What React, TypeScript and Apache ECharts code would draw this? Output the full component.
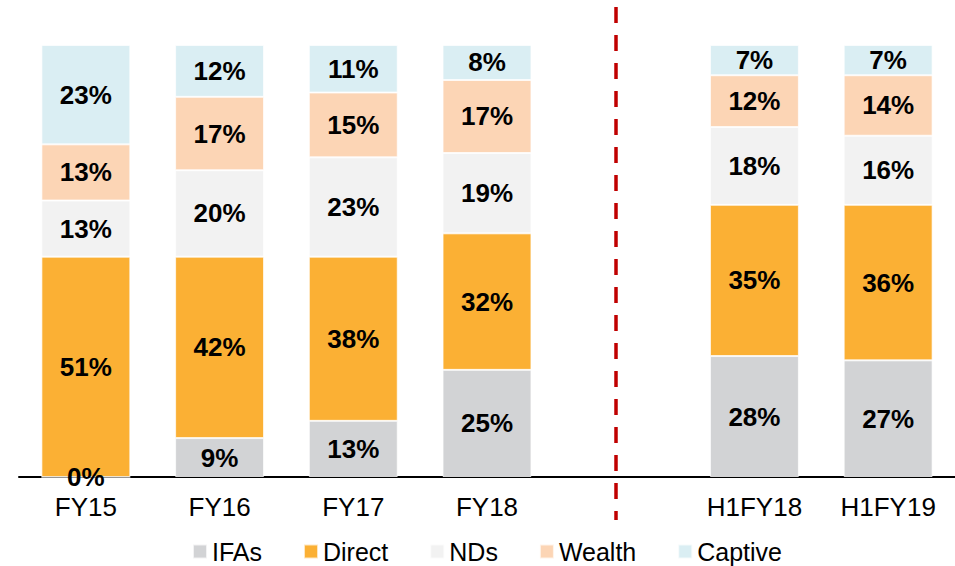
import React, { useEffect, useRef } from "react";
import * as echarts from "echarts";

const categories = ["FY15", "FY16", "FY17", "FY18", "", "H1FY18", "H1FY19"];
const ifas = [0, 9, 13, 24.8, null, 28, 27];
const direct = [51, 42, 38, 31.6, null, 35, 36];
const nds = [13, 20, 23, 18.6, null, 18, 16];
const wealth = [13, 17, 15, 16.9, null, 12, 14];
const captive = [23, 12, 11, 8.1, null, 7, 7];

const seriesNames = ["IFAs", "Direct", "NDs", "Wealth", "Captive"];
const seriesColors = ["#D2D3D5", "#FBB034", "#F2F2F2", "#FCD5B5", "#DAEEF3"];
const seriesData = [ifas, direct, nds, wealth, captive];

export default function App() {
  const ref = useRef<HTMLDivElement>(null);
  useEffect(() => {
    const chart = echarts.init(ref.current!, null, { renderer: "svg" });
    chart.setOption({
      animation: false,
      backgroundColor: "#fff",
      textStyle: { fontFamily: "Liberation Sans, Arial, sans-serif" },
      grid: { left: 19, right: 0, top: 45, bottom: 89 },
      legend: {
        left: 187,
        top: 534,
        itemWidth: 14,
        itemHeight: 14,
        itemGap: 41,
        icon: "rect",
        textStyle: { fontSize: 25, color: "#000", fontFamily: "Liberation Sans, Arial, sans-serif" },
        data: seriesNames,
      },
      xAxis: {
        type: "category",
        data: categories,
        axisLine: { lineStyle: { color: "#000", width: 2 } },
        axisTick: { show: false },
        axisLabel: { fontSize: 26, color: "#000", margin: 17, fontFamily: "Liberation Sans, Arial, sans-serif" },
      },
      yAxis: { type: "value", min: 0, max: 100, show: false, splitLine: { show: false } },
      series: seriesNames.map((name, i) => ({
        name,
        type: "bar",
        stack: "total",
        barCategoryGap: "33.5%",
        data: seriesData[i],
        itemStyle: { color: seriesColors[i], borderColor: "rgba(255,255,255,0.7)", borderWidth: 1 },
        label: {
          show: true,
          position: "inside",
          fontSize: 26,
          fontWeight: "bold",
          color: "#000",
          fontFamily: "Liberation Sans, Arial, sans-serif",
          formatter: (p: any) => Math.round(p.value) + "%",
        },
      })),
      graphic: [
        {
          type: "line",
          shape: { x1: 616, y1: 7, x2: 616, y2: 520 },
          style: { stroke: "#C00000", lineWidth: 3.5, lineDash: [16, 12] },
          z: 10,
        },
      ],
    });
    return () => chart.dispose();
  }, []);
  return (
    <div
      ref={ref}
      style={{ position: "fixed", left: 0, top: 0, width: 955, height: 566 }}
    />
  );
}
